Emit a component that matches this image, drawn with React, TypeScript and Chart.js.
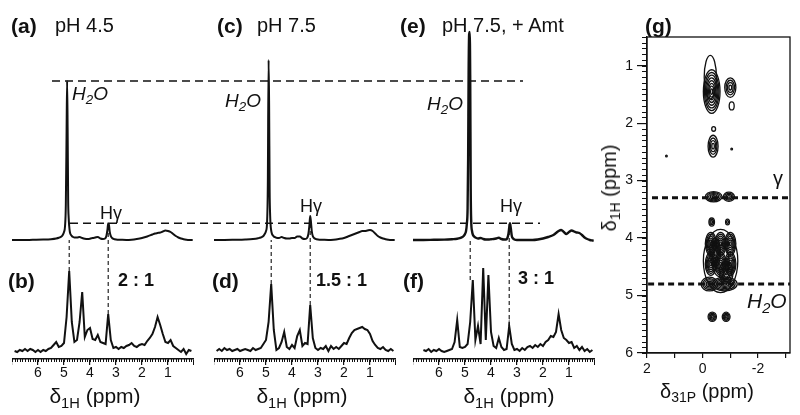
import React, { useEffect, useRef } from "react";
import { Chart, registerables } from "chart.js";

Chart.register(...registerables);

const FONT = '"Liberation Sans", Arial, Helvetica, sans-serif';
const INK = "#111111";

// ---------------- DATA: top 1H spectra (a), (c), (e) ----------------
const topPpm = [7.0, 6.6, 6.2, 5.8, 5.5, 5.3, 5.2, 5.1, 5.05, 5.0, 4.96, 4.93, 4.9, 4.88, 4.86, 4.84, 4.82, 4.8, 4.78, 4.76, 4.73, 4.7, 4.65, 4.6, 4.5, 4.4, 4.3, 4.2, 4.1, 4.0, 3.9, 3.8, 3.7, 3.6, 3.5, 3.42, 3.37, 3.33, 3.3, 3.27, 3.24, 3.2, 3.15, 3.1, 3.0, 2.8, 2.6, 2.4, 2.2, 2.0, 1.8, 1.6, 1.5, 1.4, 1.3, 1.2, 1.1, 1.0, 0.9, 0.8, 0.7, 0.6, 0.5, 0.4, 0.3, 0.2, 0.1, 0.05];
const topA = [0, 0, 0.2, 0.4, 0.8, 1.5, 2.2, 3.5, 5, 8, 14, 35, 110, 159, 110, 40, 22, 14, 9, 6.5, 5, 4, 3, 2.5, 2.5, 3, 2, 1.3, 1, 1.3, 2, 2.5, 3, 1.5, 1, 1.5, 4, 10, 16.7, 15, 8, 4, 2, 1.2, 0.5, 0.2, 0, 0.3, 1, 2, 3.5, 5.5, 6.5, 7, 7.5, 8.5, 9.5, 9, 8, 6, 4, 2.5, 1.5, 0.8, 0.3, 0, 0, 0];
const topC = [0, 0, 0.2, 0.5, 1, 1.8, 2.5, 4, 6, 9, 17, 55, 180, 135, 50, 24, 14, 9.5, 7, 5.5, 4.5, 3.5, 2.8, 2.2, 2, 3, 2, 1.5, 1.5, 2, 2, 3.5, 3.5, 1.5, 1, 2, 6, 15, 24, 18, 9, 4, 2, 1.2, 0.5, 0.2, 0, 0.3, 1, 2, 4, 6, 7, 8, 9, 9, 9.5, 10, 9, 6.5, 4, 2.5, 1.5, 0.8, 0.3, 0, 0, 0];
const topE = [0, 0, 0.2, 0.4, 0.8, 1.2, 1.8, 3, 4, 6, 9, 16, 32, 80, 170, 206, 208, 165, 50, 18, 9, 5.5, 3.5, 2.5, 1.5, 2, 1, 0.5, 0.5, 0.8, 1, 1.5, 2.3, 1, 0.5, 0.5, 2, 6, 12, 16.7, 12, 4, 1.5, 0.5, 0, 0, 0, 0, 0.5, 1.5, 3, 5, 7, 9, 10, 8, 6, 8, 9.5, 8.5, 7.5, 7, 5, 2.5, 1, 0, -0.5, -0.7];

// ---------------- DATA: bottom 1H spectra (b), (d), (f) ----------------
const botPpm = [6.9, 6.8, 6.7, 6.6, 6.5, 6.4, 6.3, 6.2, 6.1, 6.0, 5.9, 5.8, 5.7, 5.6, 5.5, 5.4, 5.3, 5.2, 5.1, 5.0, 4.9, 4.8, 4.7, 4.6, 4.5, 4.4, 4.3, 4.2, 4.1, 4.0, 3.9, 3.8, 3.7, 3.6, 3.5, 3.4, 3.3, 3.2, 3.1, 3.0, 2.9, 2.8, 2.7, 2.6, 2.5, 2.4, 2.3, 2.2, 2.1, 2.0, 1.9, 1.8, 1.7, 1.6, 1.5, 1.4, 1.3, 1.2, 1.1, 1.0, 0.9, 0.8, 0.7, 0.6, 0.5, 0.4, 0.3, 0.2, 0.1];
const botB = [1, 0, 2, 1, 3, 1, 3, 2, 0, 2, 0, 2, 1, 3, 4, 7, 10, 5, 6, 9, 35, 81, 30, 10, 12, 30, 60, 15, 22, 24, 13, 12, 17, 10, 9, 8, 38, 12, 4, 5, 3, 5, 4, 6, 7, 9, 6, 5, 7, 8, 7, 11, 14, 18, 25, 35, 27, 18, 10, 9, 12, 6, 4, 2, 0, 3, -2, 2, 1];
const botD = [1, 3, 1, 4, 2, 3, 1, 2, 3, 1, 2, 3, 2, 1, 4, 2, 3, 4, 8, 12, 30, 68, 22, 2, 4, 10, 20, 5, 3, 7, 4, 16, 22, 6, 9, 8, 47, 14, 4, 2, 4, 3, 6, 1, 6, 3, 5, 3, 6, 9, 8, 14, 19, 22, 23, 24, 25, 23, 22, 18, 11, 7, 4, 3, 5, 2, 1, 3, 1];
const botF = [null, null, null, 2, 1, 3, 0, 2, 1, 3, 1, 0, 1, 2, 3, 10, 32, 5, 4, 5, 8, 30, 72, 12, 26, 8, 84, 12, 77, 20, 6, 4, 14, 5, 2, 3, 26, 8, 2, 3, 1, 4, 2, 5, 6, 4, 7, 5, 8, 6, 10, 12, 16, 15, 20, 38, 22, 14, 12, 9, 10, 4, 6, 2, 5, 1, 3, 0, 2];

const markerPpm = [4.8, 3.3]; // H2O, Hγ
const panelLetters = ["(a)", "(b)", "(c)", "(d)", "(e)", "(f)", "(g)"];
const phTitles = ["pH 4.5", "pH 7.5", "pH 7.5, + Amt"];
const ratioLabels = ["2 : 1", "1.5 : 1", "3 : 1"];

// ---------------- DATA: (g) 31P-1H correlation contours ----------------
const cP = [-0.33, -0.28, -1.0, -1.05, -0.4, -0.38, 1.3, -1.05, -0.4, -0.95, -0.33, -0.9, -0.3, -0.65, -1.0, -0.3, -0.65, -1.0, -0.25, -0.8, -0.65, -0.35, -0.85, -0.45, -0.85];
const cH = [1.45, 1.2, 1.38, 1.7, 2.1, 2.4, 2.57, 2.45, 3.28, 3.28, 3.72, 3.72, 4.1, 4.1, 4.1, 4.45, 4.45, 4.45, 4.8, 4.8, 4.4, 5.37, 5.37, 4.25, 4.6];
const cWP = [0.3, 0.22, 0.2, 0.09, 0.07, 0.18, 0.03, 0.03, 0.3, 0.2, 0.1, 0.07, 0.2, 0.2, 0.2, 0.2, 0.2, 0.2, 0.3, 0.45, 0.62, 0.15, 0.14, 0.2, 0.25];
const cWH = [0.38, 0.38, 0.17, 0.07, 0.04, 0.19, 0.015, 0.015, 0.09, 0.08, 0.07, 0.05, 0.2, 0.2, 0.2, 0.2, 0.2, 0.2, 0.12, 0.12, 0.55, 0.08, 0.08, 0.25, 0.2];
const cRings = [8, 1, 4, 1, 1, 4, 1, 1, 5, 4, 3, 2, 6, 6, 6, 6, 6, 6, 5, 6, 2, 4, 4, 5, 5];
const gRefH = [3.3, 4.8]; // γ and H2O
const gXRange = [-3.15, 2];
const gYRange = [0.5, 6];

// ---------------- layout constants ----------------
const PX_PER_PPM = 26;
const COL_LEFT = [12, 214, 413];
const TOP_BASE = 240;
const BOT_TOP = 220;
const BOT_BASE = 352;
const BOT_AXIS_Y = 359;

const ppmAtPage = (px: number) => 7 - (px - COL_LEFT[0]) / PX_PER_PPM;

const minorTicks = {
  id: "minorTicks",
  afterDraw(chart: any, _a: any, opts: any) {
    const list = opts && opts.list;
    if (!list) return;
    const ctx = chart.ctx;
    const ca = chart.chartArea;
    ctx.save();
    ctx.strokeStyle = INK;
    ctx.lineWidth = 1;
    for (const m of list) {
      const sc = chart.scales[m.id];
      const n0 = Math.ceil(sc.min / m.step - 1e-6);
      const n1 = Math.floor(sc.max / m.step + 1e-6);
      for (let n = n0; n <= n1; n++) {
        const p = Math.round(sc.getPixelForValue(n * m.step)) + 0.5;
        ctx.beginPath();
        if (sc.isHorizontal()) {
          ctx.moveTo(p, ca.bottom);
          ctx.lineTo(p, ca.bottom + m.len);
        } else {
          ctx.moveTo(ca.left - m.len, p);
          ctx.lineTo(ca.left, p);
        }
        ctx.stroke();
      }
    }
    ctx.restore();
  },
};

const frame = {
  id: "frame",
  afterDraw(chart: any) {
    const { ctx, chartArea: ca } = chart;
    ctx.save();
    ctx.strokeStyle = INK;
    ctx.lineWidth = 1.3;
    ctx.strokeRect(ca.left, ca.top, ca.right - ca.left, ca.bottom - ca.top);
    ctx.restore();
  },
};

const contours = {
  id: "contours",
  beforeDatasetsDraw(chart: any) {
    const xs = chart.scales.x;
    const ys = chart.scales.y;
    const ctx = chart.ctx;
    const ca = chart.chartArea;
    ctx.save();
    ctx.beginPath();
    ctx.rect(ca.left, ca.top, ca.right - ca.left, ca.bottom - ca.top);
    ctx.clip();
    ctx.strokeStyle = INK;
    ctx.lineWidth = 1.3;
    cP.forEach((p, i) => {
      const cx = xs.getPixelForValue(p);
      const cy = ys.getPixelForValue(cH[i]);
      const rx = Math.abs(xs.getPixelForValue(p + cWP[i]) - cx);
      const ry = Math.abs(ys.getPixelForValue(cH[i] + cWH[i]) - cy);
      const n = cRings[i];
      for (let k = 1; k <= n; k++) {
        ctx.beginPath();
        ctx.ellipse(cx, cy, Math.max(0.8, (rx * k) / n), Math.max(0.8, (ry * k) / n), 0, 0, Math.PI * 2);
        ctx.stroke();
      }
    });
    ctx.restore();
  },
};

const peakNear = (spec: (number | null)[], ppm: number) => {
  let m = -Infinity;
  botPpm.forEach((p, i) => {
    const v = spec[i];
    if (v !== null && Math.abs(p - ppm) <= 0.1 + 1e-6 && v > m) m = v;
  });
  return m;
};

const hgLevel = () => {
  let m = -Infinity;
  topPpm.forEach((p, i) => {
    if (p < 3.5 && p > 3.1 && topA[i] > m) m = topA[i];
  });
  return m;
};

function topConfig(): any {
  const W = 600;
  const H = 300;
  const scales: any = {
    y: { type: "linear", display: false, min: TOP_BASE - H, max: TOP_BASE },
  };
  COL_LEFT.forEach((l, i) => {
    const max = 7 + l / PX_PER_PPM;
    scales["x" + i] = { type: "linear", display: false, reverse: true, min: max - W / PX_PER_PPM, max };
  });
  const spectra = [topA, topC, topE].map((arr, i) => ({
    data: topPpm.map((p, j) => ({ x: p, y: arr[j] })),
    xAxisID: "x" + i,
    yAxisID: "y",
    borderColor: INK,
    borderWidth: i === 2 ? 2.4 : 2,
    pointRadius: 0,
    cubicInterpolationMode: "monotone",
  }));
  const lvl1 = Math.max(...topA);
  const lvl2 = hgLevel();
  const ref = (y: number, a: number, b: number) => ({
    data: [
      { x: ppmAtPage(a), y },
      { x: ppmAtPage(b), y },
    ],
    xAxisID: "x0",
    yAxisID: "y",
    borderColor: INK,
    borderWidth: 1.6,
    borderDash: [8, 5],
    pointRadius: 0,
  });
  return {
    type: "line",
    data: { datasets: [...spectra, ref(lvl1, 52, 523), ref(lvl2, 70, 540)] },
    options: {
      responsive: false,
      animation: false,
      devicePixelRatio: 1,
      layout: { padding: 0 },
      plugins: { legend: { display: false }, tooltip: { enabled: false } },
      scales,
    },
  };
}

function bottomConfig(spec: (number | null)[]): any {
  const plotH = BOT_AXIS_Y - BOT_TOP;
  const lvl2 = hgLevel();
  const tops = [BOT_BASE - TOP_BASE, BOT_BASE - TOP_BASE + lvl2];
  const vlines = markerPpm.map((m, i) => ({
    data: [
      { x: m, y: peakNear(spec, m) },
      { x: m, y: tops[i] },
    ],
    borderColor: INK,
    borderWidth: 1.1,
    borderDash: [4, 3],
    pointRadius: 0,
  }));
  return {
    type: "line",
    data: {
      datasets: [
        {
          data: botPpm.map((p, j) => ({ x: p, y: spec[j] })),
          borderColor: INK,
          borderWidth: 2,
          pointRadius: 0,
          tension: 0,
          spanGaps: false,
        },
        ...vlines,
      ],
    },
    options: {
      responsive: false,
      animation: false,
      devicePixelRatio: 1,
      layout: { padding: 0 },
      plugins: {
        legend: { display: false },
        tooltip: { enabled: false },
        minorTicks: { list: [{ id: "x", step: 0.1, len: 3 }] },
      },
      scales: {
        x: {
          type: "linear",
          min: 0,
          max: 7,
          reverse: true,
          afterFit: (s: any) => {
            s.height = 30;
          },
          ticks: {
            stepSize: 1,
            autoSkip: false,
            maxRotation: 0,
            padding: 0,
            color: INK,
            font: { family: FONT, size: 14 },
            callback: (v: number) => (v > 0 && v < 7 ? String(v) : ""),
          },
          grid: { display: true, drawOnChartArea: false, drawTicks: true, tickLength: 6, color: INK, lineWidth: 1.2 },
          border: { display: true, color: INK, width: 1.5 },
        },
        y: { type: "linear", display: false, min: BOT_BASE - BOT_AXIS_Y, max: BOT_BASE - BOT_AXIS_Y + plotH },
      },
    },
    plugins: [minorTicks],
  };
}

function gConfig(): any {
  const ref = (h: number, from: number) => ({
    data: [
      { x: from, y: h },
      { x: gXRange[0], y: h },
    ],
    showLine: true,
    borderColor: INK,
    borderWidth: 3,
    borderDash: [6, 4],
    pointRadius: 0,
  });
  return {
    type: "scatter",
    data: { datasets: [ref(gRefH[0], 1.82), ref(gRefH[1], 1.96)] },
    options: {
      responsive: false,
      animation: false,
      devicePixelRatio: 1,
      layout: { padding: { top: 37, right: 10, left: 0, bottom: 0 } },
      plugins: {
        legend: { display: false },
        tooltip: { enabled: false },
        minorTicks: { list: [{ id: "y", step: 0.1, len: 5 }] },
      },
      scales: {
        x: {
          type: "linear",
          min: gXRange[0],
          max: gXRange[1],
          reverse: true,
          afterFit: (s: any) => {
            s.height = 62;
          },
          ticks: {
            stepSize: 1,
            includeBounds: false,
            autoSkip: false,
            maxRotation: 0,
            padding: 3,
            color: INK,
            font: { family: FONT, size: 14 },
            callback: (v: number) => (Math.round(v) % 2 === 0 ? String(v) : ""),
          },
          grid: { display: true, drawOnChartArea: false, tickLength: 5, color: INK, lineWidth: 1.2 },
          border: { display: true, color: INK, width: 1.3 },
        },
        y: {
          type: "linear",
          min: gYRange[0],
          max: gYRange[1],
          reverse: true,
          afterFit: (s: any) => {
            s.width = 47;
          },
          ticks: {
            stepSize: 1,
            includeBounds: false,
            autoSkip: false,
            padding: 4,
            color: INK,
            font: { family: FONT, size: 14 },
          },
          grid: { display: true, drawOnChartArea: false, tickLength: 10, color: INK, lineWidth: 1.2 },
          border: { display: true, color: INK, width: 1.3 },
        },
      },
    },
    plugins: [contours, minorTicks, frame],
  };
}

function ChartCanvas(props: { left: number; top: number; width: number; height: number; make: () => any }) {
  const ref = useRef<HTMLCanvasElement | null>(null);
  useEffect(() => {
    if (!ref.current) return;
    const c = new Chart(ref.current, props.make());
    return () => c.destroy();
  }, []);
  return (
    <canvas
      ref={ref}
      width={props.width}
      height={props.height}
      style={{ position: "absolute", left: props.left, top: props.top, width: props.width, height: props.height }}
    />
  );
}

function Txt(props: { x: number; base: number; size: number; bold?: boolean; italic?: boolean; center?: boolean; children: any }) {
  const { x, base, size, bold, italic, center, children } = props;
  return (
    <div
      style={{
        position: "absolute",
        left: x,
        top: base - 0.8465 * size,
        fontFamily: FONT,
        fontSize: size,
        lineHeight: `${size}px`,
        fontWeight: bold ? 700 : 400,
        fontStyle: italic ? "italic" : "normal",
        whiteSpace: "nowrap",
        color: INK,
        transform: center ? "translateX(-50%)" : undefined,
      }}
    >
      {children}
    </div>
  );
}

const Sub = (props: { children: any }) => (
  <span style={{ fontSize: "0.7em", position: "relative", top: "0.3em" }}>{props.children}</span>
);

export default function App() {
  const cols = [botB, botD, botF];
  const h2oPos = [
    [72, 100],
    [225, 107],
    [427, 110],
  ];
  const hgPos = [
    [100, 219],
    [300, 212],
    [500, 212],
  ];
  const ratioPos = [
    [118, 286],
    [316, 286],
    [518, 284],
  ];
  const letterTop = [11, 217, 400];
  const letterBot = [8, 212, 403];
  const titleX = [55, 257, 442];
  const axisCx = [95, 302, 509];
  return (
    <div style={{ position: "absolute", left: 0, top: 0, width: 800, height: 415, background: "#fff", overflow: "hidden" }}>
      <ChartCanvas left={0} top={0} width={600} height={300} make={topConfig} />
      {cols.map((s, k) => (
        <ChartCanvas key={k} left={COL_LEFT[k]} top={BOT_TOP} width={7 * PX_PER_PPM} height={BOT_AXIS_Y - BOT_TOP + 30} make={() => bottomConfig(s)} />
      ))}
      <ChartCanvas left={600} top={0} width={200} height={415} make={gConfig} />

      {[0, 1, 2].map((k) => (
        <React.Fragment key={k}>
          <Txt x={letterTop[k]} base={32.3} size={21} bold>
            {panelLetters[k * 2]}
          </Txt>
          <Txt x={titleX[k]} base={32.3} size={20}>
            {phTitles[k]}
          </Txt>
          <Txt x={letterBot[k]} base={288} size={21} bold>
            {panelLetters[k * 2 + 1]}
          </Txt>
          <Txt x={h2oPos[k][0]} base={h2oPos[k][1]} size={19} italic>
            H<Sub>2</Sub>O
          </Txt>
          <Txt x={hgPos[k][0]} base={hgPos[k][1]} size={18}>
            Hγ
          </Txt>
          <Txt x={ratioPos[k][0]} base={ratioPos[k][1]} size={18} bold>
            {ratioLabels[k]}
          </Txt>
          <Txt x={axisCx[k]} base={403} size={21} center>
            δ<Sub>1H</Sub> (ppm)
          </Txt>
        </React.Fragment>
      ))}

      <Txt x={645} base={32.3} size={21} bold>
        {panelLetters[6]}
      </Txt>
      <Txt x={773} base={185} size={20}>
        γ
      </Txt>
      <Txt x={747} base={308} size={21} italic>
        H<Sub>2</Sub>O
      </Txt>
      <Txt x={707} base={398} size={20} center>
        δ<Sub>31P</Sub> (ppm)
      </Txt>
      <div
        style={{
          position: "absolute",
          left: 610,
          top: 188,
          transform: "translate(-50%, -50%) rotate(-90deg)",
          fontFamily: FONT,
          fontSize: 20,
          lineHeight: "20px",
          whiteSpace: "nowrap",
          color: INK,
        }}
      >
        δ<Sub>1H</Sub> (ppm)
      </div>
    </div>
  );
}
